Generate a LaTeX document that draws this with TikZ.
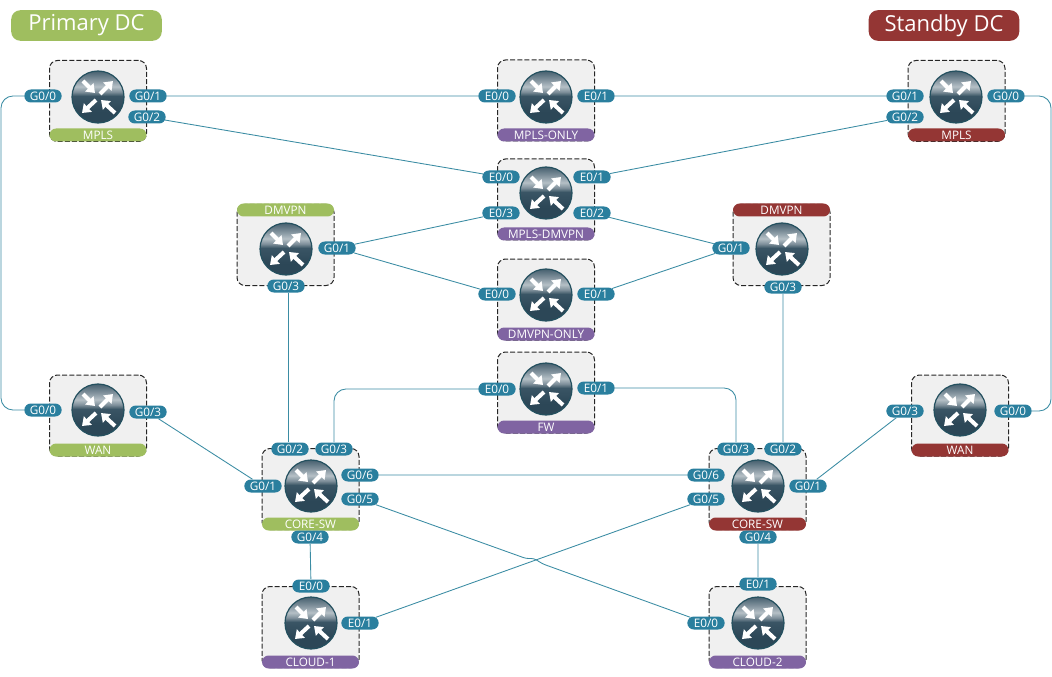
\documentclass[tikz,border=0pt]{standalone}
\usepackage{fontspec}
\usepackage{xcolor}
\setmainfont{Open Sans}
\usetikzlibrary{arrows.meta,shapes.misc}

\definecolor{primarygreen}{HTML}{9FBE5F}
\definecolor{standbyred}{HTML}{943634}
\definecolor{transitpurple}{HTML}{8064A2}
\definecolor{portteal}{HTML}{2A7F9E}
\definecolor{linkteal}{HTML}{3B8CA3}
\definecolor{icondark}{HTML}{2C4757}
\definecolor{iconlow}{HTML}{3A5565}
\definecolor{iconedge}{HTML}{24505F}
\definecolor{iconmid}{HTML}{7F909B}
\definecolor{iconlight}{HTML}{B5C0C6}
\definecolor{icontop}{HTML}{46606F}

\pgfdeclareverticalshading{routerglow}{100bp}{
  color(0bp)=(icondark); color(36bp)=(icondark); color(51bp)=(iconlow);
  color(55bp)=(iconmid); color(60bp)=(iconlight); color(67bp)=(iconmid); color(75bp)=(icontop); color(100bp)=(icontop)}

\tikzset{
  routerbox/.style={draw=black!85, fill=black!6, dashed, dash pattern=on 3.75pt off 1.6pt,
    line width=.75pt, rounded corners=6pt, minimum width=72.75pt, minimum height=60.75pt, inner sep=0pt},
  barlabel/.style={text=white, rounded corners=5pt, minimum width=72.75pt, minimum height=9.75pt,
    inner sep=0pt, font=\fontsize{8.8}{9}\selectfont},
  portlabel/.style={rounded rectangle, fill=portteal, text=white, minimum width=28pt, minimum height=9.75pt,
    inner sep=0pt, font=\fontsize{8.8}{9}\selectfont},
  titlelabel/.style={text=white, rounded corners=7pt, minimum width=113pt, minimum height=23pt,
    inner sep=0pt, font=\fontsize{16.5}{18}\selectfont},
  link/.style={draw=linkteal, line width=.65pt},
  routerarrow/.style={draw=white, line width=3pt, -{Triangle[length=6pt,width=8.5pt]}}
}

\newcommand{\routericon}[2]{
\shade[shading=routerglow, draw=iconedge, line width=.9pt] (#1,#2) circle (19.5pt);
\draw[routerarrow] (#1-15,#2-16) -- (#1-3,#2-4);
\draw[routerarrow] (#1+2,#2-3) -- (#1+15,#2-16);
\draw[routerarrow] (#1-2,#2+3) -- (#1-16,#2+16);
\draw[routerarrow] (#1+17,#2+16) -- (#1+3,#2+3);
}

\begin{document}
\begin{tikzpicture}[x=.75pt,y=-.75pt]
\useasboundingbox (0,0) rectangle (1052,677);

\node[titlelabel, fill=primarygreen] (titleprimary) at (86.5,25.5) {\raisebox{1pt}{Primary DC}};
\node[titlelabel, fill=standbyred] (titlestandby) at (944,25.5) {\raisebox{1pt}{Standby DC}};

% routers
\node[routerbox] (mplsp) at (98,101) {};
\node[barlabel, fill=primarygreen] (mplsplabel) at (98,135) {MPLS};
\routericon{98}{97}

\node[routerbox] (mplsonly) at (546,100.5) {};
\node[barlabel, fill=transitpurple] (mplsonlylabel) at (546,135) {MPLS-ONLY};
\routericon{546}{97}

\node[routerbox] (mplss) at (956.5,101) {};
\node[barlabel, fill=standbyred] (mplsslabel) at (956.5,135) {MPLS};
\routericon{956}{97}

\node[routerbox] (mplsdmvpn) at (546,199.5) {};
\node[barlabel, fill=transitpurple] (mplsdmvpnlabel) at (546,234) {MPLS-DMVPN};
\routericon{546}{193}

\node[routerbox] (dmvpnp) at (285.5,245) {};
\node[barlabel, fill=primarygreen] (dmvpnplabel) at (285.5,210) {DMVPN};
\routericon{286}{249}

\node[routerbox] (dmvpns) at (781.5,245) {};
\node[barlabel, fill=standbyred] (dmvpnslabel) at (781.5,210) {DMVPN};
\routericon{782}{249}

\node[routerbox] (dmvpnonly) at (546,299.5) {};
\node[barlabel, fill=transitpurple] (dmvpnonlylabel) at (546,334) {DMVPN-ONLY};
\routericon{546}{295}

\node[routerbox] (fw) at (546,392.5) {};
\node[barlabel, fill=transitpurple] (fwlabel) at (546,427) {FW};
\routericon{546}{389}

\node[routerbox] (wanp) at (98,415.5) {};
\node[barlabel, fill=primarygreen] (wanplabel) at (98,450) {WAN};
\routericon{98}{410}

\node[routerbox] (wans) at (960,415.5) {};
\node[barlabel, fill=standbyred] (wanslabel) at (960,450) {WAN};
\routericon{960}{410}

\node[routerbox] (corep) at (310.5,489) {};
\node[barlabel, fill=primarygreen] (coreplabel) at (310.5,524) {CORE-SW};
\routericon{311}{486}

\node[routerbox] (cores) at (757.5,489) {};
\node[barlabel, fill=standbyred] (coreslabel) at (757.5,524) {CORE-SW};
\routericon{758}{486}

\node[routerbox] (cloudone) at (310.5,627) {};
\node[barlabel, fill=transitpurple] (cloudonelabel) at (310.5,662) {CLOUD-1};
\routericon{311}{623}

\node[routerbox] (cloudtwo) at (757.5,627) {};
\node[barlabel, fill=transitpurple] (cloudtwolabel) at (757.5,662) {CLOUD-2};
\routericon{758}{623}

% ports
\node[portlabel] (mplspg00) at (43,96) {G0/0};
\node[portlabel] (mplspg01) at (148,96) {G0/1};
\node[portlabel] (mplspg02) at (147,117) {G0/2};

\node[portlabel] (mplsonlye00) at (497,96) {E0/0};
\node[portlabel] (mplsonlye01) at (596,96) {E0/1};

\node[portlabel] (mplssg01) at (905,96) {G0/1};
\node[portlabel] (mplssg02) at (905,117) {G0/2};
\node[portlabel] (mplssg00) at (1006,96) {G0/0};

\node[portlabel] (mplsdmvpne00) at (501,177) {E0/0};
\node[portlabel] (mplsdmvpne03) at (501,213) {E0/3};
\node[portlabel] (mplsdmvpne01) at (592,177) {E0/1};
\node[portlabel] (mplsdmvpne02) at (592,213) {E0/2};

\node[portlabel] (dmvpnpg01) at (337,248) {G0/1};
\node[portlabel] (dmvpnpg03) at (286,286) {G0/3};
\node[portlabel] (dmvpnsg01) at (731,248) {G0/1};
\node[portlabel] (dmvpnsg03) at (783,287) {G0/3};

\node[portlabel] (dmvpnonlye00) at (497,294) {E0/0};
\node[portlabel] (dmvpnonlye01) at (596,294) {E0/1};

\node[portlabel] (fwe00) at (497,389) {E0/0};
\node[portlabel] (fwe01) at (596,388) {E0/1};

\node[portlabel] (wanpg00) at (43,410) {G0/0};
\node[portlabel] (wanpg03) at (148,412) {G0/3};
\node[portlabel] (wansg03) at (905,411) {G0/3};
\node[portlabel] (wansg00) at (1013,411) {G0/0};

\node[portlabel] (corepg01) at (263,486) {G0/1};
\node[portlabel] (corepg02) at (290,449) {G0/2};
\node[portlabel] (corepg03) at (334,449) {G0/3};
\node[portlabel] (corepg06) at (360,475) {G0/6};
\node[portlabel] (corepg05) at (360,499) {G0/5};
\node[portlabel] (corepg04) at (310,537) {G0/4};

\node[portlabel] (coresg03) at (736,449) {G0/3};
\node[portlabel] (coresg02) at (783,449) {G0/2};
\node[portlabel] (coresg06) at (706,475) {G0/6};
\node[portlabel] (coresg05) at (706,499) {G0/5};
\node[portlabel] (coresg01) at (808,486) {G0/1};
\node[portlabel] (coresg04) at (758,537) {G0/4};

\node[portlabel] (cloudonee00) at (311,586) {E0/0};
\node[portlabel] (cloudonee01) at (360,623) {E0/1};
\node[portlabel] (cloudtwoe01) at (758,584) {E0/1};
\node[portlabel] (cloudtwoe00) at (706,623) {E0/0};

\coordinate (lefttrunk) at (1,250);
\coordinate (righttrunk) at (1051,250);
\coordinate (crossleft) at (526,558.5);
\coordinate (crossmid) at (534,558.5);
\coordinate (crossright) at (543,564);
\coordinate (dmvpnpdrop) at (288,293);

% links
\draw[link, rounded corners=9pt] (mplspg00.west) -| (lefttrunk) |- (wanpg00.west);
\draw[link, rounded corners=9pt] (mplssg00.east) -| (righttrunk) |- (wansg00.east);
\draw[link] (mplspg01) -- (mplsonlye00);
\draw[link] (mplsonlye01) -- (mplssg01);
\draw[link] (mplspg02) -- (mplsdmvpne00);
\draw[link] (mplssg02) -- (mplsdmvpne01);
\draw[link] (dmvpnpg01) -- (mplsdmvpne03);
\draw[link] (dmvpnpg01) -- (dmvpnonlye00);
\draw[link] (dmvpnsg01) -- (mplsdmvpne02);
\draw[link] (dmvpnsg01) -- (dmvpnonlye01);
\draw[link] (dmvpnpdrop) -- (dmvpnpdrop |- corepg02.north);
\draw[link] (dmvpnsg03) -- (coresg02);
\draw[link, rounded corners=9pt] (corepg03.north) |- (fwe00.west);
\draw[link, rounded corners=9pt] (fwe01.east) -| (coresg03.north);
\draw[link] (wanpg03) -- (corepg01);
\draw[link] (wansg03) -- (coresg01);
\draw[link] (corepg06) -- (coresg06);
\draw[link, rounded corners=2pt] (corepg05) -- (crossleft) -- (crossmid) -- (crossright) -- (cloudtwoe00);
\draw[link] (coresg05) -- (cloudonee01);
\draw[link] (corepg04) -- (cloudonee00);
\draw[link] (coresg04) -- (cloudtwoe01);

\end{tikzpicture}
\end{document}
